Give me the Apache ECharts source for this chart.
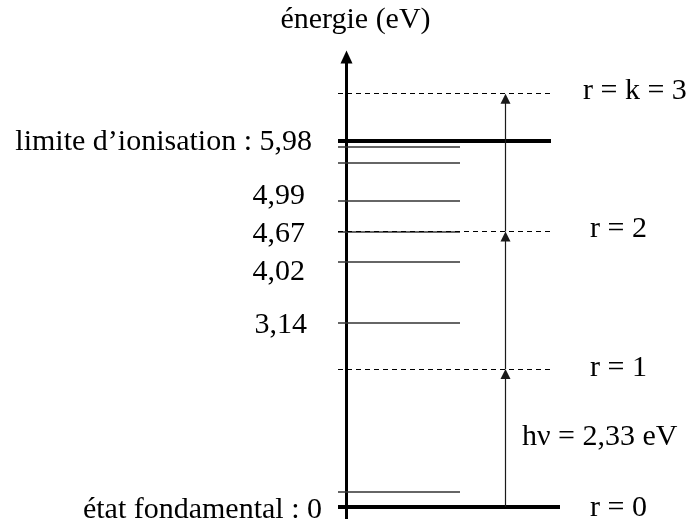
<!DOCTYPE html>
<html>
<head>
<meta charset="utf-8">
<script src="https://cdn.jsdelivr.net/npm/echarts@6/dist/echarts.min.js"></script>
<style>
  html, body { margin: 0; padding: 0; background: #fff; }
  #main { width: 688px; height: 519px; }
</style>
</head>
<body>
<div id="main"></div>
<script>
var thinLevels = [0.25, 3.00, 4.01, 4.50, 5.00, 5.63, 5.88];
var ionLevel = 5.98;
var groundLevel = 0;
var virtualLevels = [2.25, 4.50, 6.75];

var leftLabels = ['état fondamental : 0', '3,14', '4,02', '4,67', '4,99', 'limite d’ionisation : 5,98'];
var leftLabelLevels = [0, 3.00, 4.01, 4.50, 5.00, 5.98];
var rightLabels = ['r = 0', 'r = 1', 'r = 2', 'r = k = 3'];
var rightLabelLevels = [0, 2.25, 4.50, 6.75];
var photonLabel = 'hν = 2,33 eV';

// mise en page (pixels, origine = axe vertical)
var AXIS_X = 346.5;
var PX_PER_EV = 61.2;
var px = function (p) { return p - AXIS_X; };
var lineStart = px(338), thinEnd = px(460), dashEnd = px(552), ionEnd = px(551), groundEnd = px(560);
var arrowX = px(505.5);
var ARROW_SIZE = 10;
var leftPos = [[322, 3], [307, 2], [305, 11], [305, 3], [305, -5], [312, 1]];
var rightPos = [[590, 1], [590, -1], [590, -2], [583, -3]];
var FONT = '"Liberation Serif", "Times New Roman", serif';

var chartDom = document.getElementById('main');
var myChart = echarts.init(chartDom);

function seg(x0, x1, y) {
    return { coords: [[x0, y], [x1, y]] };
}

var thinData = thinLevels.map(function (e) { return seg(lineStart, thinEnd, e); });
var thickData = [seg(lineStart, ionEnd, ionLevel), seg(lineStart, groundEnd, groundLevel)];
var dashData = virtualLevels.map(function (e) { return seg(lineStart, dashEnd, e); });

// la pointe de chaque fleche touche le niveau virtuel
var tipPad = ARROW_SIZE / 2 / PX_PER_EV;
var arrowData = [];
var prev = groundLevel;
for (var i = 0; i < virtualLevels.length; i++) {
    arrowData.push({ coords: [[arrowX, prev], [arrowX, virtualLevels[i] - tipPad]] });
    prev = virtualLevels[i];
}

var leftData = [];
for (var i = 0; i < leftLabels.length; i++) {
    leftData.push({
        value: [px(leftPos[i][0]), leftLabelLevels[i]],
        name: leftLabels[i],
        label: { offset: [0, leftPos[i][1]] }
    });
}
var rightData = [];
for (var i = 0; i < rightLabels.length; i++) {
    rightData.push({
        value: [px(rightPos[i][0]), rightLabelLevels[i]],
        name: rightLabels[i],
        label: { offset: [0, rightPos[i][1]] }
    });
}
var photonData = [{
    value: [px(522), (groundLevel + virtualLevels[0]) / 2],
    name: photonLabel,
    label: { offset: [0, -1] }
}];

var textStyle = { color: '#000', fontFamily: FONT, fontSize: 30, opacity: 1 };

var option = {
    animation: false,
    grid: { left: 338, right: 0, top: 57, bottom: 0 },
    xAxis: {
        type: 'value',
        min: px(338),
        max: px(688),
        show: false
    },
    yAxis: {
        type: 'value',
        min: -0.2,
        max: 7.35,
        name: 'énergie (eV)',
        nameLocation: 'end',
        nameGap: 22,
        nameTextStyle: { color: '#000', fontFamily: FONT, fontSize: 30, padding: [0, 0, 0, 18] },
        axisLine: {
            show: true,
            onZero: true,
            symbol: ['none', 'triangle'],
            symbolSize: [12, 13],
            lineStyle: { color: '#000', width: 3 }
        },
        axisTick: { show: false },
        axisLabel: { show: false },
        splitLine: { show: false }
    },
    series: [
        {
            name: 'niveaux',
            type: 'lines',
            coordinateSystem: 'cartesian2d',
            lineStyle: { color: '#333', width: 1.5, opacity: 1 },
            data: thinData,
            silent: true
        },
        {
            name: 'niveaux forts',
            type: 'lines',
            coordinateSystem: 'cartesian2d',
            lineStyle: { color: '#000', width: 4, opacity: 1 },
            data: thickData,
            silent: true
        },
        {
            name: 'virtuels',
            type: 'lines',
            coordinateSystem: 'cartesian2d',
            lineStyle: { color: '#000', width: 1, type: [5, 4], opacity: 1 },
            data: dashData,
            silent: true
        },
        {
            name: 'photons',
            type: 'lines',
            coordinateSystem: 'cartesian2d',
            symbol: ['none', 'triangle'],
            symbolSize: ARROW_SIZE,
            lineStyle: { color: '#1a1a1a', width: 1.2, opacity: 1 },
            data: arrowData,
            silent: true
        },
        {
            name: 'etiquettes gauche',
            type: 'scatter',
            symbolSize: 0,
            clip: false,
            itemStyle: { opacity: 1 },
            data: leftData,
            label: Object.assign({ show: true, position: 'left', distance: 0, formatter: '{b}' }, textStyle),
            silent: true
        },
        {
            name: 'etiquettes droite',
            type: 'scatter',
            symbolSize: 0,
            clip: false,
            itemStyle: { opacity: 1 },
            data: rightData.concat(photonData),
            label: Object.assign({ show: true, position: 'right', distance: 0, formatter: '{b}' }, textStyle),
            silent: true
        }
    ]
};

option && myChart.setOption(option);
</script>
</body>
</html>
